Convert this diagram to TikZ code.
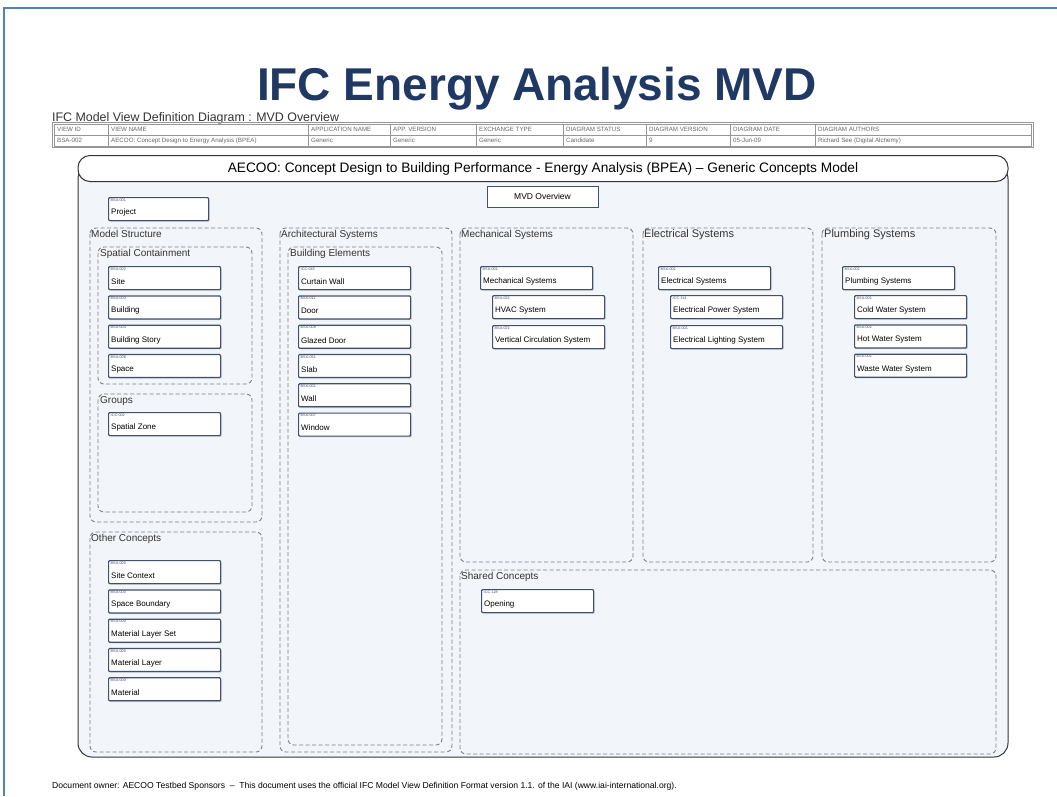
\documentclass[tikz,border=0pt]{standalone}
\usepackage{fontspec}
\setmainfont{Liberation Sans}
\usetikzlibrary{positioning,shadows}

\definecolor{pageblue}{RGB}{79,129,189}
\definecolor{titlenavy}{RGB}{31,56,100}
\definecolor{framefill}{RGB}{242,245,249}
\definecolor{boxedge}{RGB}{66,80,108}
\definecolor{groupgrey}{RGB}{128,128,128}
\definecolor{cellgrey}{RGB}{150,150,150}

% concept box: [width], name, top left corner, id, text
\newcommand{\concept}[5][112pt]{%
  \node[concept, minimum width=#1] (#2) at (#3) {};
  \node[conceptid] (#2-id) at ([shift={(2.5pt,-1.5pt)}]#2.north west) {#4};
  \node[conceptname] (#2-name) at ([shift={(3pt,-3.5pt)}]#2.west) {#5};
}

\begin{document}
\begin{tikzpicture}[x=1pt, y=-1pt,
    concept/.style={draw=boxedge, line width=1.2pt, fill=white, rounded corners=1pt,
      minimum height=23pt, anchor=north west, inner sep=0pt,
      drop shadow={shadow xshift=1.2pt, shadow yshift=-1.2pt, opacity=0.3}},
    conceptid/.style={anchor=north west, inner sep=0pt, text=boxedge,
      font=\fontsize{3.8}{4}\selectfont},
    conceptname/.style={anchor=west, inner sep=0pt, font=\fontsize{8}{9}\selectfont},
    group/.style={draw=groupgrey, line width=0.9pt, dash pattern=on 4pt off 2.5pt,
      rounded corners=6pt},
    grouplabel/.style={anchor=north west, inner sep=1pt, text=black!80,
      font=\fontsize{10}{12}\selectfont},
    biglabel/.style={grouplabel, font=\fontsize{11}{13}\selectfont},
    cell/.style={draw=cellgrey, line width=0.5pt},
    celltext/.style={anchor=west, inner sep=0pt, text=black!60,
      font=\fontsize{6.2}{7}\selectfont}]

  \useasboundingbox (0,0) rectangle (1057,796);

  % page border
  \draw[pageblue, line width=1.5pt] (4,796) -- (4,8) -- (1057,8);

  % title and subtitle
  \node[text=titlenavy, inner sep=0pt, anchor=base] (title) at (537,100)
    {\scalebox{1.0}[1]{\bfseries\fontsize{46}{50}\selectfont IFC Energy Analysis MVD}};
  \node[anchor=west, inner sep=0pt, text=black!80] (subtitle) at (52,118)
    {\fontsize{12.4}{14}\selectfont IFC Model View Definition Diagram : MVD Overview};

  % header table
  \draw[cell] (52,122) rectangle (1033,147);
  \foreach \x/\w/\head/\val [count=\i] in {
      54/54/VIEW ID/BSA-002,
      108/200/VIEW NAME/{AECOO: Concept Design to Energy Analysis (BPEA)},
      308/82/APPLICATION NAME/Generic,
      390/86/APP. VERSION/Generic,
      476/87/EXCHANGE TYPE/Generic,
      563/83/DIAGRAM STATUS/Candidate,
      646/84/DIAGRAM VERSION/9,
      730/85/DIAGRAM DATE/05-Jun-09,
      815/216/DIAGRAM AUTHORS/Richard See (Digital Alchemy)} {
    \draw[cell] (\x,124) rectangle (\x+\w,135);
    \draw[cell] (\x,135) rectangle (\x+\w,146);
    \node[celltext] (head\i) at (\x+3,129.5) {\head};
    \node[celltext] (val\i) at (\x+3,140.5) {\val};
  }

  % model frame
  \draw[black!80, line width=1pt, fill=framefill, rounded corners=14pt] (78,165) rectangle (1008,757);
  \node[draw=black!80, line width=1pt, fill=white, rounded corners=12pt,
    minimum width=930pt, minimum height=26pt, font=\fontsize{13.7}{15}\selectfont] (model)
    at (543,168.5) {AECOO: Concept Design to Building Performance - Energy Analysis (BPEA) -- Generic Concepts Model};

  \node[draw=boxedge, line width=1pt, fill=white, minimum width=111pt, minimum height=21pt,
    font=\fontsize{8.5}{9}\selectfont,
    drop shadow={shadow xshift=1.2pt, shadow yshift=-1.2pt, opacity=0.3}] (overview)
    at (542.5,196.5) {MVD Overview};

  \concept[100pt]{project}{108,197}{BSA-001}{Project}

  % model structure
  \draw[group] (90,228) rectangle (262,522);
  \node[grouplabel] (modelstructure) at (90,229) {Model Structure};
  \draw[group] (98,247) rectangle (252,384);
  \node[grouplabel] (spatial) at (99,248) {Spatial Containment};
  \foreach \n/\id/\t [count=\i] in {site/BSA-002/Site, building/BSA-003/Building,
      story/BSA-004/Building Story, space/BSA-006/Space}
    \concept{\n}{108,{266+29.3*(\i-1)}}{\id}{\t};
  \draw[group] (98,394) rectangle (252,512);
  \node[grouplabel] (groups) at (99,395) {Groups};
  \concept{zone}{108,412}{ICC-002}{Spatial Zone}

  % other concepts
  \draw[group] (90,532) rectangle (262,752);
  \node[grouplabel] (other) at (90,533) {Other Concepts};
  \foreach \n/\id/\t [count=\i] in {sitecontext/BSA-000/Site Context,
      boundary/BSA-000/Space Boundary, layerset/BSA-000/Material Layer Set,
      layer/BSA-000/Material Layer, material/BSA-000/Material}
    \concept{\n}{108,{560+29.3*(\i-1)}}{\id}{\t};

  % architectural systems
  \draw[group] (280,228) rectangle (452,752);
  \node[grouplabel] (arch) at (280,229) {Architectural Systems};
  \draw[group] (288,247) rectangle (442,745);
  \node[grouplabel] (elements) at (289,248) {Building Elements};
  \foreach \n/\id/\t [count=\i] in {curtain/ICC-043/Curtain Wall, door/BSA-011/Door,
      glazed/BSA-008/Glazed Door, slab/BSA-051/Slab, wall/BSA-001/Wall,
      window/BSA-007/Window}
    \concept{\n}{298,{266+29.3*(\i-1)}}{\id}{\t};

  % mechanical systems
  \draw[group] (460,228) rectangle (633,562);
  \node[grouplabel] (mech) at (460,229) {Mechanical Systems};
  \concept{mechsys}{480,266}{BSA-001}{Mechanical Systems}
  \concept{hvac}{492,295}{BSA-021}{HVAC System}
  \concept{vertical}{492,325}{BSA-021}{Vertical Circulation System}

  % electrical systems
  \draw[group] (643,228) rectangle (813,562);
  \node[biglabel] (elec) at (643,228) {Electrical Systems};
  \concept{elecsys}{658,266}{BSA-001}{Electrical Systems}
  \concept{power}{670,295}{ICC-114}{Electrical Power System}
  \concept{lighting}{670,325}{BSA-001}{Electrical Lighting System}

  % plumbing systems
  \draw[group] (822,228) rectangle (996,562);
  \node[biglabel] (plumb) at (823,228) {Plumbing Systems};
  \concept{plumbsys}{842,266}{BSA-001}{Plumbing Systems}
  \foreach \n/\t [count=\i] in {cold/Cold Water System, hot/Hot Water System,
      waste/Waste Water System}
    \concept{\n}{854,{295+29.3*(\i-1)}}{BSA-001}{\t};

  % shared concepts
  \draw[group] (460,570) rectangle (996,754);
  \node[grouplabel] (shared) at (460,571) {Shared Concepts};
  \concept{opening}{481,589}{ICC-128}{Opening}

  % footer
  \node[anchor=west, inner sep=0pt, font=\fontsize{8.6}{10}\selectfont] (footer) at (52,786)
    {Document owner: AECOO Testbed Sponsors \ -- \ This document uses the official IFC Model View Definition Format version 1.1. of the IAI (www.iai-international.org).};
\end{tikzpicture}
\end{document}
